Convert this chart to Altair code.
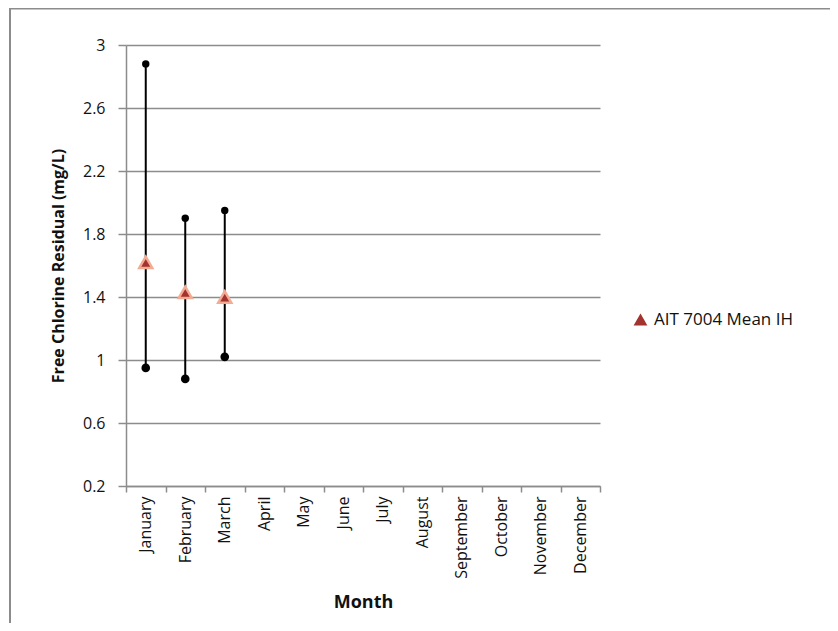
import altair as alt
import pandas as pd

months = ["January", "February", "March", "April", "May", "June", "July",
          "August", "September", "October", "November", "December"]
data_months = ["January", "February", "March"]
mean_vals = [1.62, 1.43, 1.40]
max_vals = [2.88, 1.90, 1.95]
min_vals = [0.95, 0.88, 1.02]
series_name = "AIT 7004 Mean IH"
y_ticks = [0.2, 0.6, 1.0, 1.4, 1.8, 2.2, 2.6, 3.0]

df = pd.DataFrame({
    "Month": data_months,
    "Mean": mean_vals,
    "Max": max_vals,
    "Min": min_vals,
    "Series": [series_name] * len(data_months),
})

FONT = "Open Sans"
GRID = "#8c8c8c"

W, H = 474, 441

x_enc = alt.X("Month:N", scale=alt.Scale(domain=months, paddingInner=0, paddingOuter=0),
              axis=alt.Axis(title="Month", labelAngle=-90, tickBand="extent",
                            labelFont=FONT, labelFontSize=16, labelColor="#111",
                            labelPadding=4, tickSize=6, tickColor=GRID, tickWidth=1.5,
                            domainColor=GRID, domainWidth=1.5, grid=False,
                            titleFont=FONT, titleFontSize=18, titleFontWeight="bold",
                            titleColor="#111", titlePadding=15))

y_scale = alt.Scale(domain=[0.2, 3.0], nice=False, zero=False)
y_axis = alt.Axis(title="Free Chlorine Residual (mg/L)", values=y_ticks, format=".1~f",
                  labelFont=FONT, labelFontSize=16, labelColor="#111", labelPadding=13,
                  tickSize=8, tickColor=GRID, tickWidth=1.5,
                  domainColor=GRID, domainWidth=1.5,
                  grid=True, gridColor=GRID, gridWidth=1.5,
                  titleFont=FONT, titleFontSize=16, titleFontWeight="bold",
                  titleColor="#111", titlePadding=16)

base = alt.Chart(df)

border = alt.Chart(pd.DataFrame({"a": [0]})).mark_rect(
    filled=False, stroke="#8c8c8c", strokeWidth=2, clip=False
).encode(x=alt.value(-116), x2=alt.value(1000), y=alt.value(-36.5), y2=alt.value(1000))

rules = base.mark_rule(color="black", strokeWidth=2).encode(
    x=x_enc,
    y=alt.Y("Min:Q", scale=y_scale, axis=y_axis),
    y2="Max:Q",
)

tops = base.mark_circle(color="black", size=55, opacity=1).encode(
    x="Month:N", y=alt.Y("Max:Q", scale=y_scale)
)
bottoms = base.mark_circle(color="black", size=75, opacity=1).encode(
    x="Month:N", y=alt.Y("Min:Q", scale=y_scale)
)

means = base.mark_point(filled=True, fill="#a3332e", stroke="#f3ab93",
                        strokeWidth=2.5, size=170, opacity=1).encode(
    x="Month:N",
    y=alt.Y("Mean:Q", scale=y_scale),
    shape=alt.Shape("Series:N", scale=alt.Scale(domain=[series_name], range=["triangle-up"]),
                    legend=alt.Legend(title=None, orient="none", legendX=506, legendY=266,
                                      labelFont=FONT, labelFontSize=17, labelColor="#111",
                                      symbolFillColor="#a3332e", symbolStrokeColor="#f3ab93",
                                      symbolStrokeWidth=2.5, symbolSize=190, labelOffset=5)),
)

chart = alt.layer(border, rules, tops, bottoms, means).properties(
    width=W, height=H,
    autosize=alt.AutoSizeParams(type="none"),
    padding={"left": 118, "top": 37, "right": 230, "bottom": 137},
    background="white",
).configure_view(stroke=None)

chart.save("out.html", embed_options={"renderer": "svg", "actions": False})
